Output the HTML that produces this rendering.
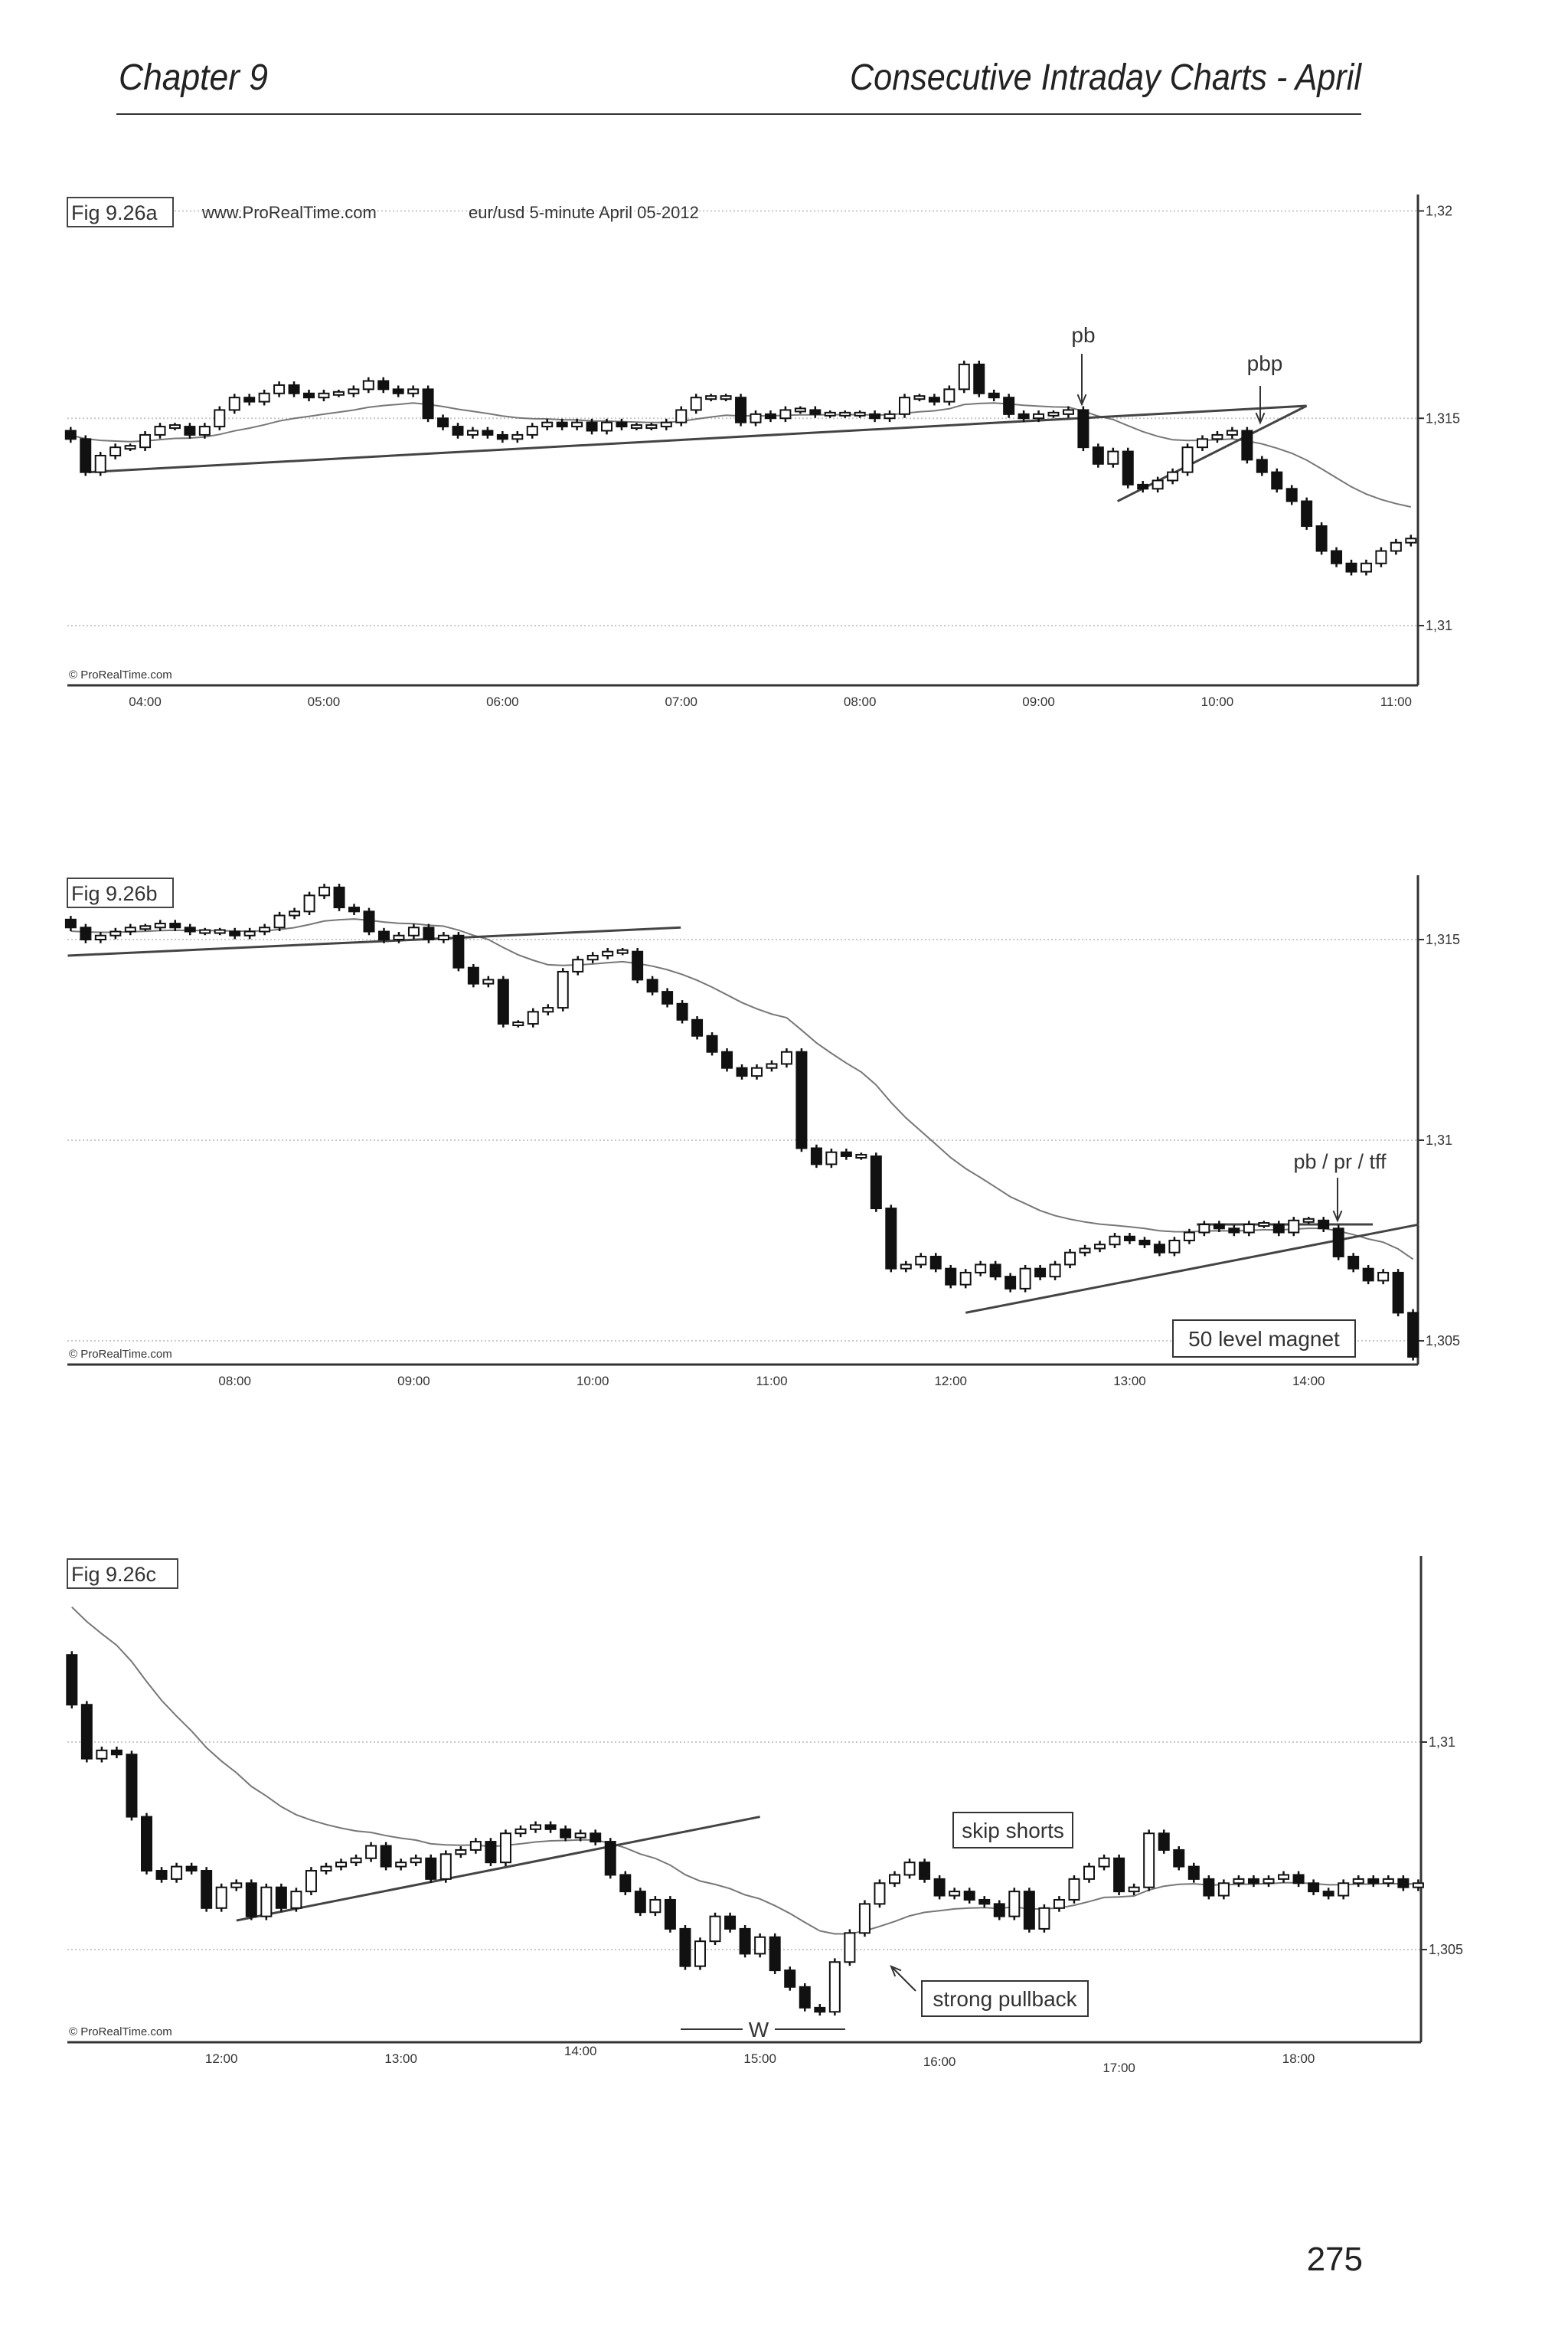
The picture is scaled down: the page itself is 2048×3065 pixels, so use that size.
<!DOCTYPE html>
<html><head><meta charset="utf-8"><title>Consecutive Intraday Charts - April</title>
<style>
html,body{margin:0;padding:0;background:#fff;}
svg{display:block;font-family:"Liberation Sans",sans-serif;}
</style></head>
<body>
<svg id="page" width="2048" height="3065" viewBox="0 0 2048 3065" xmlns="http://www.w3.org/2000/svg">
<rect width="2048" height="3065" fill="#fff"/>
<text x="155" y="117" font-size="48" font-style="italic" fill="#222" textLength="195" lengthAdjust="spacingAndGlyphs">Chapter 9</text>
<text x="1778" y="117" font-size="48" font-style="italic" fill="#222" text-anchor="end" textLength="668" lengthAdjust="spacingAndGlyphs">Consecutive Intraday Charts - April</text>
<line x1="152" y1="149" x2="1778" y2="149" stroke="#333" stroke-width="2"/>
<text x="1780" y="2965" font-size="44" fill="#222" text-anchor="end">275</text>
<g id="charts"></g>
</svg>
<script>
// ---------- Chart a data (EUR/USD 5-min, from 03:35) ----------
const aStart = '03:35';
const aOpen0 = 1.3147;
const aMaSeed = 1.3146;
const aCloses = [
1.3145,1.3137,1.3141,1.3143,1.3143,
1.3146,1.3148,1.3148,1.3146,1.3148,1.3152,1.3155,1.3154,1.3156,1.3158,1.3156,1.3155,
1.3156,1.3156,1.3157,1.3159,1.3157,1.3156,1.3157,1.3150,1.3148,1.3146,1.3147,1.3146,
1.3145,1.3146,1.3148,1.3149,1.3148,1.3149,1.3147,1.3149,1.3148,1.3148,1.3148,1.3149,
1.3152,1.3155,1.3155,1.3155,1.3149,1.3151,1.3150,1.3152,1.3152,1.3151,1.3151,1.3151,
1.3151,1.3150,1.3151,1.3155,1.3155,1.3154,1.3157,1.3163,1.3156,1.3155,1.3151,
1.3150,1.3151,1.3151,1.3152,1.3143,1.3139,1.3142,1.3134,1.3133,1.3135,1.3137,1.3143,
1.3145,1.3146,1.3147,1.3140,1.3137,1.3133,1.3130,1.3124,1.3118,1.3115,1.3113,1.3115,
1.3118,1.3120,1.3121];
const aTimes = ['04:00','05:00','06:00','07:00','08:00','09:00','10:00','11:00'];
const aPrices = [1.32,1.315,1.31];
const aLineStart = [1.2, 1.3137]; const aLineEnd = [83.0, 1.3153];
const aTriStart = [70.3, 1.3130]; const aTriEnd = [83.0, 1.3153];

// ---------- Chart b data (from 07:05) ----------
const bStart = '07:05';
const bOpen0 = 1.3155;
const bMaSeed = 1.3152;
const bCloses = [
1.3153,1.3150,1.3151,1.3152,1.3153,1.3153,1.3154,1.3153,1.3152,1.3152,1.3152,1.3151,1.3152,1.3153,1.3156,1.3157,
1.3161,1.3163,1.3158,1.3157,1.3152,1.3150,1.3151,1.3153,1.3150,1.3151,
1.3143,1.3139,1.3140,1.3129,1.3129,1.3132,1.3133,1.3142,1.3145,1.3146,1.3147,1.3147,
1.3140,1.3137,1.3134,1.3130,1.3126,1.3122,1.3118,1.3116,1.3118,1.3119,1.3122,
1.3098,1.3094,1.3097,1.3096,1.3096,1.3083,1.3068,1.3069,1.3071,1.3068,1.3064,
1.3067,1.3069,1.3066,1.3063,1.3068,1.3066,1.3069,1.3072,1.3073,1.3074,1.3076,1.3075,1.3074,1.3072,1.3075,
1.3077,1.3079,1.3078,1.3077,1.3079,1.3079,1.3077,1.3080,1.3080,1.3078,1.3071,1.3068,1.3065,1.3067,1.3057,1.3046];
const bTimes = ['08:00','09:00','10:00','11:00','12:00','13:00','14:00'];
const bPrices = [1.315,1.31,1.305];
const bLineStart = [-0.2, 1.3146]; const bLineEnd = [40.9, 1.3153];
const bTriStart = [60, 1.3057]; const bTriEnd = [90.4, 1.3079];
const bFlatStart = [75.5, 1.3079]; const bFlatEnd = [87.3, 1.3079];

// ---------- Chart c data (from 11:10) ----------
const cStart = '11:10';
const cOpen0 = 1.3121;
const cMaSeed = 1.3135;
const cCloses = [
1.3109,1.3096,1.3098,1.3097,1.3082,1.3069,1.3067,1.3070,1.3069,1.3060,1.3065,1.3066,1.3058,1.3065,1.3060,1.3064,
1.3069,1.3070,1.3071,1.3072,1.3075,1.3070,1.3071,1.3072,1.3067,1.3073,1.3074,1.3076,1.3071,1.3078,1.3079,1.3080,
1.3079,1.3077,1.3078,1.3076,1.3068,1.3064,1.3059,1.3062,1.3055,1.3046,1.3052,1.3058,1.3055,1.3049,1.3053,1.3045,
1.3041,1.3036,1.3035,1.3047,1.3054,1.3061,1.3066,1.3068,1.3071,1.3067,1.3063,1.3064,1.3062,1.3061,1.3058,1.3064,
1.3055,1.3060,1.3062,1.3067,1.3070,1.3072,1.3064,1.3065,1.3078,1.3074,1.3070,1.3067,1.3063,1.3066,1.3067,1.3066,
1.3067,1.3068,1.3066,1.3064,1.3063,1.3066,1.3067,1.3066,1.3067,1.3065,1.3066];
const cTimes = ['12:00','13:00','14:00','15:00','16:00','17:00','18:00'];
const cTimeDy = [0,0,-10,0,4,12,0];
const cPrices = [1.31,1.305];
const cLineStart = [11, 1.3057]; const cLineEnd = [46, 1.3082];

const NS = 'http://www.w3.org/2000/svg';
const root = document.getElementById('charts');
function mk(tag, attrs, parent){
  const e = document.createElementNS(NS, tag);
  for (const k in attrs) e.setAttribute(k, attrs[k]);
  (parent||root).appendChild(e);
  return e;
}
function mins(t){const p=t.split(':');return (+p[0])*60+(+p[1]);}
function fmt(p){return String(p).replace('.',',');}

function drawChart(cfg, closes, open0, maSeed, times, prices, start, lines, timeDy){
  const g = mk('g', {});
  
  
  const xOf = i => cfg.x0 + i*cfg.dx;
  const yOf = p => cfg.y1 + (p - cfg.p1)*(cfg.y2 - cfg.y1)/(cfg.p2 - cfg.p1);
  prices.forEach(p=>{
    const gl = mk('line',{x1:cfg.left,x2:cfg.right,y1:yOf(p),y2:yOf(p),stroke:'#c8c8c8','stroke-width':2,'stroke-dasharray':'2 3'},g);
    
    
    const tk = mk('line',{x1:cfg.right,x2:cfg.right+8,y1:yOf(p),y2:yOf(p),stroke:'#333','stroke-width':2},g);
    
    
    const tl = mk('text',{x:cfg.right+10,y:yOf(p)+6,'font-size':18,fill:'#333'},g);
    tl.textContent = fmt(p);
    
    
  });
  const ax = mk('line',{x1:cfg.left,x2:cfg.right,y1:cfg.bottom,y2:cfg.bottom,stroke:'#333','stroke-width':3},g);
  
  
  const ay = mk('line',{x1:cfg.right,x2:cfg.right,y1:cfg.top,y2:cfg.bottom,stroke:'#333','stroke-width':3},g);
  
  
  const s0 = mins(start);
  times.forEach((t,j)=>{
    const x = xOf((mins(t)-s0)/5);
    const dy = timeDy ? timeDy[j] : 0;
    const tl = mk('text',{x:x,y:cfg.bottom+27+dy,'font-size':17,fill:'#333','text-anchor':'middle'},g);
    tl.textContent = t;
    
    
  });
  let ma = maSeed, pts = [];
  const k = 2/21;
  closes.forEach((c,i)=>{ ma = ma + k*(c-ma); pts.push(xOf(i).toFixed(1)+','+yOf(ma).toFixed(1)); });
  const mal = mk('polyline',{points:pts.join(' '),fill:'none',stroke:'#777','stroke-width':2},g);
  
  
  lines.forEach(L=>{
    const tl = mk('line',{x1:xOf(L[0][0]),y1:yOf(L[0][1]),x2:xOf(L[1][0]),y2:yOf(L[1][1]),stroke:'#444','stroke-width':3},g);
    
    
  });
  let prev = open0;
  closes.forEach((c,i)=>{
    const o = prev; prev = c;
    const x = xOf(i);
    const hi = Math.max(o,c)+0.00009, lo = Math.min(o,c)-0.00009;
    const cg = mk('g',{},g);
    
    
    mk('line',{x1:x,x2:x,y1:yOf(hi),y2:yOf(lo),stroke:'#111','stroke-width':2.5},cg);
    let yt = yOf(Math.max(o,c)), yb = yOf(Math.min(o,c));
    if (yb-yt < 4){const m=(yt+yb)/2; yt=m-2; yb=m+2;}
    mk('rect',{x:x-6.5,y:yt,width:13,height:yb-yt,fill:c<o?'#111':'#fff',stroke:'#111','stroke-width':2},cg);
  });
  const fb = mk('rect',{x:cfg.left,y:cfg.top+4,width:cfg.figW,height:38,fill:'#fff',stroke:'#444','stroke-width':2},g);
  
  
  const ft = mk('text',{x:cfg.left+5,y:cfg.top+33,'font-size':27,fill:'#333'},g);
  ft.textContent = cfg.fig;
  
  
  const cp = mk('text',{x:cfg.left+2,y:cfg.bottom-9,'font-size':15,fill:'#333'},g);
  cp.textContent = '© ProRealTime.com';
  
  
  return {xOf, yOf, g};
}

const A = drawChart({name:'chart-fig-9-26a',x0:92.3,dx:19.45,p1:1.32,y1:275.5,p2:1.31,y2:817,left:88,right:1852,top:254,bottom:895,fig:'Fig 9.26a',figW:138},
  aCloses,aOpen0,aMaSeed,aTimes,aPrices,aStart,[[aLineStart,aLineEnd],[aTriStart,aTriEnd]],null);
const B = drawChart({name:'chart-fig-9-26b',x0:92.4,dx:19.48,p1:1.315,y1:1227,p2:1.31,y2:1489,left:88,right:1852,top:1143,bottom:1782,fig:'Fig 9.26b',figW:138},
  bCloses,bOpen0,bMaSeed,bTimes,bPrices,bStart,[[bLineStart,bLineEnd],[bTriStart,bTriEnd],[bFlatStart,bFlatEnd]],null);
const C = drawChart({name:'chart-fig-9-26c',x0:93.8,dx:19.54,p1:1.31,y1:2275,p2:1.305,y2:2546,left:88,right:1856,top:2032,bottom:2667,fig:'Fig 9.26c',figW:144},
  cCloses,cOpen0,cMaSeed,cTimes,cPrices,cStart,[[cLineStart,cLineEnd]],cTimeDy);

function txt(g,x,y,s,size,name,anchor){
  const t = mk('text',{x:x,y:y,'font-size':size,fill:'#333','text-anchor':anchor||'start'},g);
  t.textContent = s;
  
  
  return t;
}
function arrow(g,x1,y1,x2,y2,name){
  const a = mk('g',{},g);
  
  
  mk('line',{x1:x1,y1:y1,x2:x2,y2:y2,stroke:'#333','stroke-width':2},a);
  const ang = Math.atan2(y2-y1,x2-x1), L=14;
  const p1=[x2-L*Math.cos(ang-0.4),y2-L*Math.sin(ang-0.4)], p2=[x2-L*Math.cos(ang+0.4),y2-L*Math.sin(ang+0.4)];
  mk('polyline',{points:p1.join(',')+' '+x2+','+y2+' '+p2.join(','),fill:'none',stroke:'#333','stroke-width':2},a);
}
function box(g,x,y,w,h,s,name){
  const b = mk('g',{},g);
  
  
  mk('rect',{x:x,y:y,width:w,height:h,fill:'#fff',stroke:'#333','stroke-width':2},b);
  const t = mk('text',{x:x+w/2,y:y+h/2+10,'font-size':28,fill:'#333','text-anchor':'middle'},b);
  t.textContent = s;
}
txt(A.g,264,285,'www.ProRealTime.com',22,'source-label');
txt(A.g,612,285,'eur/usd  5-minute  April 05-2012',22,'instrument-label');
txt(A.g,1415,447,'pb',28,'pb-label','middle');
arrow(A.g,1413,462,1413,528,'pb-arrow');
txt(A.g,1652,484,'pbp',28,'pbp-label','middle');
arrow(A.g,1646,504,1646,552,'pbp-arrow');
txt(B.g,1750,1526,'pb / pr / tff',27,'pb-pr-tff-label','middle');
arrow(B.g,1747,1538,1747,1594,'pb-pr-tff-arrow');
box(B.g,1532,1724,238,48,'50 level magnet','fifty-level-magnet-box');
box(C.g,1245,2367,156,46,'skip shorts','skip-shorts-box');
box(C.g,1204,2587,217,46,'strong pullback','strong-pullback-box');
arrow(C.g,1196,2600,1164,2568,'strong-pullback-arrow');
const w1 = mk('line',{x1:889,y1:2650,x2:970,y2:2650,stroke:'#333','stroke-width':2},C.g);


const w2 = mk('line',{x1:1012,y1:2650,x2:1104,y2:2650,stroke:'#333','stroke-width':2},C.g);


txt(C.g,991,2660,'W',28,'w-pattern-label','middle');
</script>
</body></html>
